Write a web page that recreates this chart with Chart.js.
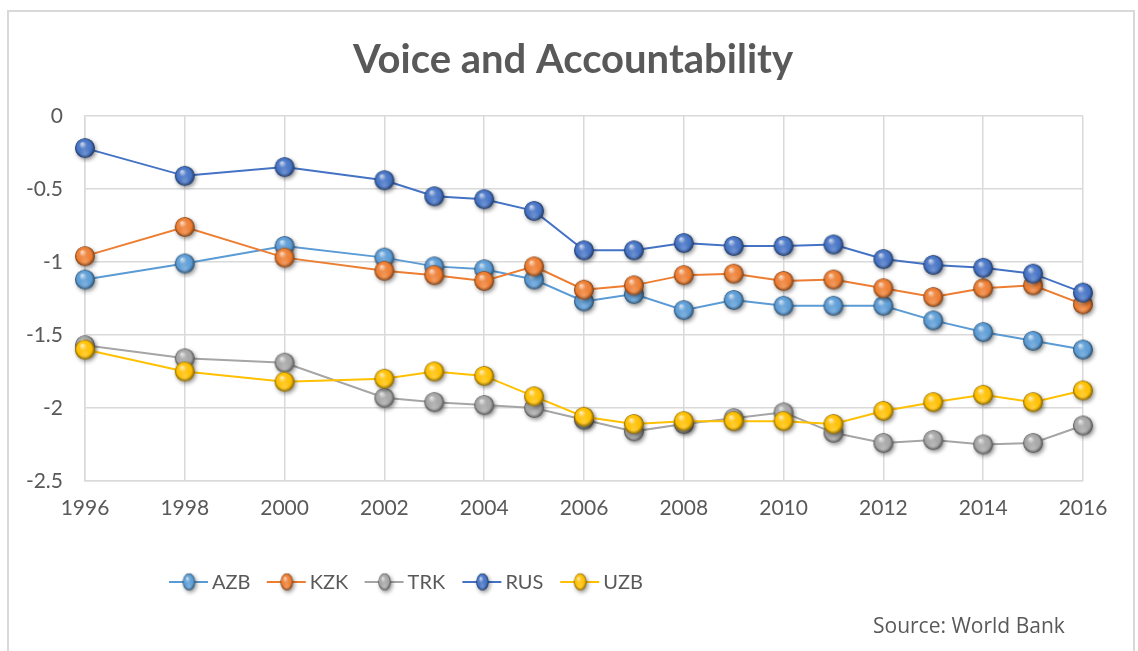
<!DOCTYPE html>
<html>
<head>
<meta charset="utf-8">
<title>Voice and Accountability</title>
<script src="https://cdn.jsdelivr.net/npm/chart.js@4.4.1/dist/chart.umd.min.js"></script>
<style>
  html, body { margin: 0; padding: 0; background: #ffffff; }
  #wrap { position: relative; width: 1138px; height: 651px; }
</style>
</head>
<body>
<div id="wrap"><canvas id="chart"></canvas></div>
<script>
const years = [1996, 1998, 2000, 2002, 2003, 2004, 2005, 2006, 2007, 2008, 2009, 2010, 2011, 2012, 2013, 2014, 2015, 2016];
const yearTicks = [1996, 1998, 2000, 2002, 2004, 2006, 2008, 2010, 2012, 2014, 2016];
const valueTicks = [0, -0.5, -1, -1.5, -2, -2.5];

const azb = [-1.12, -1.01, -0.89, -0.97, -1.03, -1.05, -1.12, -1.27, -1.22, -1.33, -1.26, -1.30, -1.30, -1.30, -1.40, -1.48, -1.54, -1.60];
const kzk = [-0.96, -0.76, -0.97, -1.06, -1.09, -1.13, -1.03, -1.19, -1.16, -1.09, -1.08, -1.13, -1.12, -1.18, -1.24, -1.18, -1.16, -1.29];
const trk = [-1.57, -1.66, -1.69, -1.93, -1.96, -1.98, -2.00, -2.08, -2.16, -2.11, -2.07, -2.03, -2.17, -2.24, -2.22, -2.25, -2.24, -2.12];
const rus = [-0.22, -0.41, -0.35, -0.44, -0.55, -0.57, -0.65, -0.92, -0.92, -0.87, -0.89, -0.89, -0.88, -0.98, -1.02, -1.04, -1.08, -1.21];
const uzb = [-1.60, -1.75, -1.82, -1.80, -1.75, -1.78, -1.92, -2.06, -2.11, -2.09, -2.09, -2.09, -2.11, -2.02, -1.96, -1.91, -1.96, -1.88];

const seriesNames = ["AZB", "KZK", "TRK", "RUS", "UZB"];
const seriesValues = [azb, kzk, trk, rus, uzb];
const seriesColors = ["#5B9BD5", "#ED7D31", "#A5A5A5", "#4472C4", "#FFC000"];

const TEXT = "#595959";
const GRID = "#D9D9D9";

function shade(hex, amt) {
  // amt > 0 mixes towards white, amt < 0 towards black
  const n = parseInt(hex.slice(1), 16);
  let r = n >> 16, g = (n >> 8) & 255, b = n & 255;
  const t = amt > 0 ? 255 : 0, p = Math.abs(amt);
  r = Math.round(r + (t - r) * p);
  g = Math.round(g + (t - g) * p);
  b = Math.round(b + (t - b) * p);
  return `rgb(${r},${g},${b})`;
}

// glossy ball used as the point marker
function makeSphere(color, r, sx, sy) {
  sx = sx || 1; sy = sy || 1;
  const pad = 5;
  const w = Math.ceil(2 * (r * sx + pad)), h = Math.ceil(2 * (r * sy + pad));
  const c = document.createElement("canvas");
  c.width = w; c.height = h;
  const ctx = c.getContext("2d");
  const cx = w / 2, cy = h / 2;
  ctx.save();
  ctx.translate(cx, cy);
  ctx.scale(sx, sy);
  // soft drop shadow
  ctx.shadowColor = "rgba(0,0,0,0.45)";
  ctx.shadowBlur = 4;
  ctx.shadowOffsetX = 1.5;
  ctx.shadowOffsetY = 2;
  ctx.beginPath();
  ctx.arc(0, 0, r, 0, Math.PI * 2);
  ctx.fillStyle = shade(color, -0.3);
  ctx.fill();
  ctx.shadowColor = "transparent";
  const g = ctx.createRadialGradient(-r * 0.3, -r * 0.45, r * 0.05, 0, 0, r);
  g.addColorStop(0, shade(color, 0.7));
  g.addColorStop(0.35, shade(color, 0.1));
  g.addColorStop(0.75, color);
  g.addColorStop(1, shade(color, -0.5));
  ctx.beginPath();
  ctx.arc(0, 0, r, 0, Math.PI * 2);
  ctx.fillStyle = g;
  ctx.fill();
  // bottom reflection
  const g2 = ctx.createRadialGradient(0, r * 0.55, 0, 0, r * 0.55, r * 0.6);
  g2.addColorStop(0, "rgba(255,255,255,0.22)");
  g2.addColorStop(1, "rgba(255,255,255,0)");
  ctx.fillStyle = g2;
  ctx.beginPath();
  ctx.arc(0, 0, r, 0, Math.PI * 2);
  ctx.fill();
  ctx.restore();
  return c;
}

const markers = seriesColors.map(col => makeSphere(col, 9.8));
const legendMarkers = seriesColors.map(col => makeSphere(col, 8.5, 0.72, 1));

const datasets = seriesNames.map((name, i) => ({
  label: name,
  data: years.map((yr, j) => ({ x: yr, y: seriesValues[i][j] })),
  borderColor: seriesColors[i],
  backgroundColor: seriesColors[i],
  borderWidth: 2,
  pointStyle: markers[i],
  pointRadius: 9,
  pointHoverRadius: 9,
  tension: 0,
  clip: false,
  order: seriesNames.length - i
}));

// frame, title, legend and source note
const decorations = {
  id: "decorations",
  beforeDraw(chart) {
    const ctx = chart.ctx;
    ctx.save();
    ctx.fillStyle = "#ffffff";
    ctx.fillRect(0, 0, chart.width, chart.height);
    ctx.strokeStyle = GRID;
    ctx.lineWidth = 2;
    ctx.beginPath();
    ctx.moveTo(8, 660);
    ctx.lineTo(8, 11);
    ctx.lineTo(1134, 11);
    ctx.lineTo(1134, 660);
    ctx.stroke();
    ctx.restore();
  },
  afterDraw(chart) {
    const ctx = chart.ctx;
    ctx.save();
    ctx.fillStyle = TEXT;
    ctx.textAlign = "center";
    ctx.textBaseline = "middle";
    ctx.font = "bold 40px Lato";
    ctx.fillText("Voice and Accountability", 573, 60);

    ctx.textAlign = "left";
    ctx.font = "20px Lato";
    const lx0 = 169, ly = 582, step = 97.8;
    seriesNames.forEach((name, i) => {
      const x = lx0 + i * step;
      ctx.strokeStyle = seriesColors[i];
      ctx.lineWidth = 2;
      ctx.beginPath();
      ctx.moveTo(x, ly);
      ctx.lineTo(x + 39, ly);
      ctx.stroke();
      const m = legendMarkers[i];
      ctx.drawImage(m, x + 20 - m.width / 2, ly - m.height / 2);
      ctx.fillStyle = TEXT;
      ctx.fillText(name, x + 43, ly + 1);
    });

    ctx.font = "21px 'Open Sans'";
    ctx.fillText("Source: World Bank", 873, 627);
    ctx.restore();
  }
};

new Chart(document.getElementById("chart"), {
  type: "line",
  data: { datasets },
  options: {
    responsive: true,
    maintainAspectRatio: false,
    animation: false,
    layout: { padding: { left: 0, right: 55, top: 116, bottom: 110 } },
    plugins: {
      legend: { display: false },
      title: { display: false },
      tooltip: { enabled: false }
    },
    scales: {
      x: {
        type: "linear",
        min: 1996,
        max: 2016,
        afterBuildTicks: scale => { scale.ticks = yearTicks.map(v => ({ value: v })); },
        afterFit: scale => { scale.height = 60; },
        ticks: {
          color: TEXT,
          font: { family: "Lato", size: 21 },
          padding: 15,
          maxRotation: 0,
          callback: v => String(v)
        },
        grid: { color: GRID, lineWidth: 1.5, drawTicks: false },
        border: { color: GRID, width: 1.5 }
      },
      y: {
        min: -2.5,
        max: 0,
        afterBuildTicks: scale => { scale.ticks = valueTicks.map(v => ({ value: v })); },
        afterFit: scale => { scale.width = 85; },
        ticks: {
          color: TEXT,
          font: { family: "Lato", size: 21 },
          padding: 22,
          callback: v => String(v)
        },
        grid: { color: GRID, lineWidth: 1.5, drawTicks: false },
        border: { color: GRID, width: 1.5 }
      }
    }
  },
  plugins: [decorations]
});
</script>
</body>
</html>
